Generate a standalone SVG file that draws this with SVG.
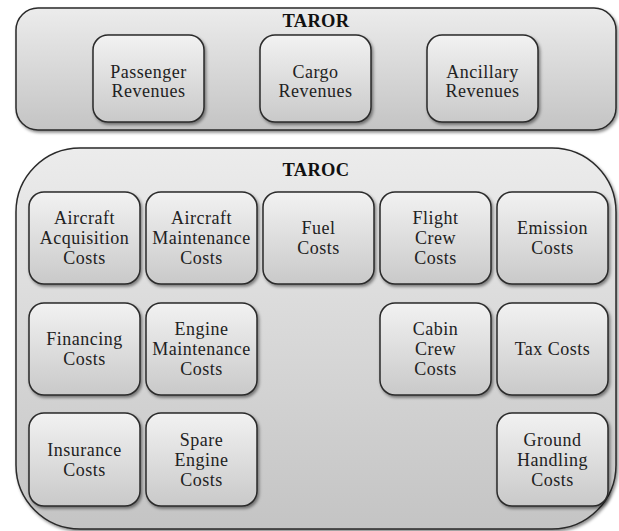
<svg xmlns="http://www.w3.org/2000/svg" width="619" height="531" viewBox="0 0 619 531">
<defs>
<linearGradient id="gOuter" x1="0" y1="0" x2="0" y2="1">
<stop offset="0" stop-color="#ececec"/>
<stop offset="1" stop-color="#c4c4c4"/>
</linearGradient>
<linearGradient id="gBox" x1="0" y1="0" x2="0" y2="1">
<stop offset="0" stop-color="#f2f2f2"/>
<stop offset="1" stop-color="#c9c9c9"/>
</linearGradient>
<filter id="sh" x="-10%" y="-10%" width="125%" height="125%">
<feDropShadow dx="1.5" dy="2" stdDeviation="1.5" flood-color="#000" flood-opacity="0.45"/>
</filter>
</defs>
<style>
.outer{fill:url(#gOuter);stroke:#2a2a2a;stroke-width:1.5;filter:url(#sh)}
.box{fill:url(#gBox);stroke:#2a2a2a;stroke-width:1.5;filter:url(#sh)}
text{fill:#222;text-anchor:middle}
.lbl{font-size:18px;letter-spacing:0.5px}
.title{font-size:18.5px;font-weight:bold;fill:#111;letter-spacing:0.3px}
</style>
<rect width="619" height="531" fill="#ffffff"/>
<g id="connectors"/>
<g font-family="Liberation Serif, Tinos, Times New Roman, DejaVu Serif, serif">
<g id="TAROR">
<rect class="outer" x="16" y="8" width="600" height="122" rx="22"/>
<text class="title" x="316" y="27">TAROR</text>
</g>
<g id="passenger">
<rect class="box" x="93" y="35" width="111" height="87" rx="15"/>
<text class="lbl" x="148.5" y="77.5">Passenger</text>
<text class="lbl" x="148.5" y="96.5">Revenues</text>
</g>
<g id="cargo">
<rect class="box" x="260" y="35" width="111" height="87" rx="15"/>
<text class="lbl" x="315.5" y="77.5">Cargo</text>
<text class="lbl" x="315.5" y="96.5">Revenues</text>
</g>
<g id="ancillary">
<rect class="box" x="427" y="35" width="111" height="87" rx="15"/>
<text class="lbl" x="482.5" y="77.5">Ancillary</text>
<text class="lbl" x="482.5" y="96.5">Revenues</text>
</g>
<g id="TAROC">
<rect class="outer" x="16" y="148" width="600" height="381" rx="64"/>
<text class="title" x="316" y="176">TAROC</text>
</g>
<g id="aircraft-acquisition">
<rect class="box" x="29" y="192" width="111" height="92" rx="15"/>
<text class="lbl" x="84.5" y="224">Aircraft</text>
<text class="lbl" x="84.5" y="244">Acquisition</text>
<text class="lbl" x="84.5" y="264">Costs</text>
</g>
<g id="aircraft-maintenance">
<rect class="box" x="146" y="192" width="111" height="92" rx="15"/>
<text class="lbl" x="201.5" y="224">Aircraft</text>
<text class="lbl" x="201.5" y="244">Maintenance</text>
<text class="lbl" x="201.5" y="264">Costs</text>
</g>
<g id="fuel">
<rect class="box" x="263" y="192" width="111" height="92" rx="15"/>
<text class="lbl" x="318.5" y="234">Fuel</text>
<text class="lbl" x="318.5" y="254">Costs</text>
</g>
<g id="flight-crew">
<rect class="box" x="380" y="192" width="111" height="92" rx="15"/>
<text class="lbl" x="435.5" y="224">Flight</text>
<text class="lbl" x="435.5" y="244">Crew</text>
<text class="lbl" x="435.5" y="264">Costs</text>
</g>
<g id="emission">
<rect class="box" x="497" y="192" width="111" height="92" rx="15"/>
<text class="lbl" x="552.5" y="234">Emission</text>
<text class="lbl" x="552.5" y="254">Costs</text>
</g>
<g id="financing">
<rect class="box" x="29" y="303" width="111" height="92" rx="15"/>
<text class="lbl" x="84.5" y="345">Financing</text>
<text class="lbl" x="84.5" y="365">Costs</text>
</g>
<g id="engine-maintenance">
<rect class="box" x="146" y="303" width="111" height="92" rx="15"/>
<text class="lbl" x="201.5" y="335">Engine</text>
<text class="lbl" x="201.5" y="355">Maintenance</text>
<text class="lbl" x="201.5" y="375">Costs</text>
</g>
<g id="cabin-crew">
<rect class="box" x="380" y="303" width="111" height="92" rx="15"/>
<text class="lbl" x="435.5" y="335">Cabin</text>
<text class="lbl" x="435.5" y="355">Crew</text>
<text class="lbl" x="435.5" y="375">Costs</text>
</g>
<g id="tax">
<rect class="box" x="497" y="303" width="111" height="92" rx="15"/>
<text class="lbl" x="552.5" y="355">Tax Costs</text>
</g>
<g id="insurance">
<rect class="box" x="29" y="413" width="111" height="93" rx="15"/>
<text class="lbl" x="84.5" y="456">Insurance</text>
<text class="lbl" x="84.5" y="476">Costs</text>
</g>
<g id="spare-engine">
<rect class="box" x="146" y="413" width="111" height="93" rx="15"/>
<text class="lbl" x="201.5" y="446">Spare</text>
<text class="lbl" x="201.5" y="466">Engine</text>
<text class="lbl" x="201.5" y="486">Costs</text>
</g>
<g id="ground-handling">
<rect class="box" x="497" y="413" width="111" height="93" rx="15"/>
<text class="lbl" x="552.5" y="446">Ground</text>
<text class="lbl" x="552.5" y="466">Handling</text>
<text class="lbl" x="552.5" y="486">Costs</text>
</g>
</g>
</svg>
